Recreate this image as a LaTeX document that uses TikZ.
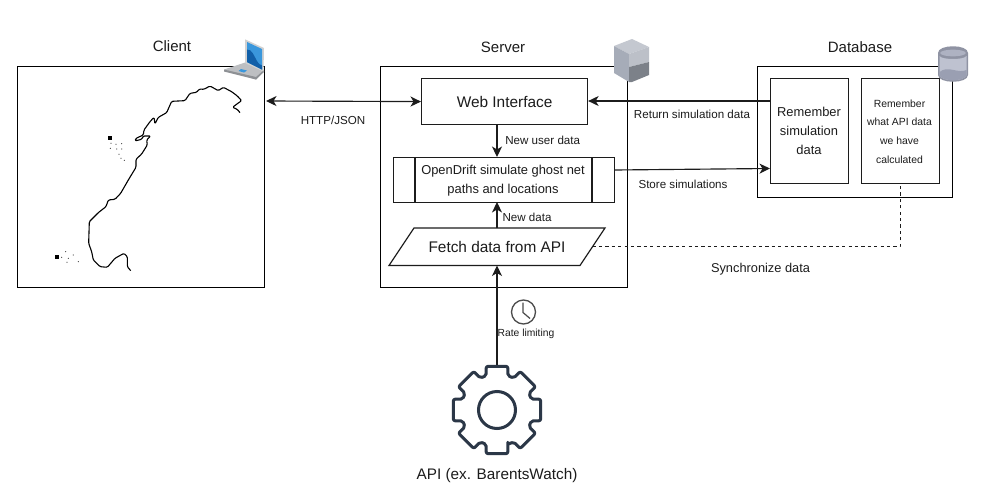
\documentclass[tikz,border=0pt]{standalone}
\usepackage{fontspec}
\setmainfont{Liberation Sans}
\usetikzlibrary{arrows.meta,calc}
\newcommand{\fsz}[1]{\fontsize{#1pt}{#1pt}\selectfont}
\definecolor{ink}{HTML}{1C1C1C}
\definecolor{gearc}{HTML}{2B3747}
\definecolor{lapscr}{HTML}{3A97DC}
\definecolor{lapdark}{HTML}{115FA8}
\definecolor{lapbase}{HTML}{BDBFC2}
\definecolor{lapedge}{HTML}{8E9195}
\definecolor{srvtop}{HTML}{C4C8D0}
\definecolor{srvleft}{HTML}{A6ACB8}
\definecolor{srvrt}{HTML}{BCC0C8}
\definecolor{srvrb}{HTML}{7C8189}
\definecolor{dbbody}{HTML}{BEC2D0}
\definecolor{dbtop}{HTML}{AEB2C2}
\definecolor{dbedge}{HTML}{8F93A3}
\definecolor{dbbot}{HTML}{9A9FB2}
\tikzset{
  container/.style={draw=black,line width=1.15pt,fill=none,inner sep=0pt},
  procbox/.style={draw=ink,line width=1.15pt,fill=white,inner sep=0pt,align=center,text=ink},
  title/.style={text=ink,inner sep=0pt,font=\fsz{15}},
  lbl/.style={text=ink,inner sep=0pt,font=\fsz{11.6}},
  conn/.style={draw=ink,line width=1.15pt,-{Stealth[length=10.5pt,width=10pt,inset=3pt]}},
  connb/.style={draw=ink,line width=1.15pt,{Stealth[length=10.5pt,width=10pt,inset=3pt]}-{Stealth[length=10.5pt,width=10pt,inset=3pt]}},
  syncline/.style={draw=ink,line width=1pt,dash pattern=on 3.2pt off 3.2pt},
}
\begin{document}
\begin{tikzpicture}[x=1pt,y=-1pt]
\useasboundingbox (0,0) rectangle (983,501);
\fill[white] (0,0) rectangle (983,501);

% containers
\node[container,minimum width=247pt,minimum height=221pt,anchor=north west] (client) at (16.5,65.5) {};
\node[container,minimum width=247pt,minimum height=221pt,anchor=north west] (server) at (380,65.5) {};
\node[container,minimum width=195pt,minimum height=131pt,anchor=north west] (database) at (757,65.5) {};

\node[title] (clientt) at (172,46.5) {Client};
\node[title] (servert) at (503,47) {Server};
\node[title] (databaset) at (860,47) {Database};

% inner boxes
\node[procbox,minimum width=166pt,minimum height=46pt,font=\fsz{15.4},anchor=north west] (web) at (421,78) {Web Interface};
\node[procbox,minimum width=221pt,minimum height=45pt,anchor=north west] (sim) at (393,157) {};
\draw[ink,line width=1.15pt] (415,157) -- (415,202) (592,157) -- (592,202);
\node[inner sep=0pt,font=\fsz{12.9},text=ink] (simtxt1) at (503,171) {OpenDrift simulate ghost net};
\node[inner sep=0pt,font=\fsz{12.9},text=ink] (simtxt2) at (503,190.5) {paths and locations};

\draw[ink,line width=1.15pt,fill=white] (414,228) -- (605,228) -- (580,265.5) -- (389,265.5) -- cycle;
\node[inner sep=0pt,font=\fsz{15.4},text=ink] (fetch) at (497,247) {Fetch data from API};
\coordinate (fetchE) at (592.5,246.5);
\coordinate (fetchT) at (497,228);
\coordinate (fetchB) at (497,265.5);

\node[procbox,minimum width=78pt,minimum height=105pt,anchor=north west] (rsim) at (770,78) {};
\node[inner sep=0pt,font=\fsz{12.9},text=ink] (rsim1) at (809,112) {Remember};
\node[inner sep=0pt,font=\fsz{12.9},text=ink] (rsim2) at (809,131) {simulation};
\node[inner sep=0pt,font=\fsz{12.9},text=ink] (rsim3) at (809,150) {data};
\node[procbox,minimum width=78pt,minimum height=105pt,anchor=north west] (rapi) at (861,78) {};
\node[inner sep=0pt,font=\fsz{10.4},text=ink] (rapi1) at (899.5,104) {Remember};
\node[inner sep=0pt,font=\fsz{10.4},text=ink] (rapi2) at (899.5,122) {what API data};
\node[inner sep=0pt,font=\fsz{10.4},text=ink] (rapi3) at (899.5,141) {we have};
\node[inner sep=0pt,font=\fsz{10.4},text=ink] (rapi4) at (899.5,159.5) {calculated};

% map
\begin{scope}[shift={(0,30)},x=.3333pt,y=-.3333pt]
\draw[black,line width=1.1pt,line join=round,rounded corners=1.2pt] (720,248) -- (712,238) -- (698,232) -- (708,224) -- (725,212) -- (712,198) -- (695,185) -- (670,172) -- (655,182) -- (630,168) -- (612,178) -- (598,177) -- (590,187) -- (570,190) -- (555,212) -- (515,214) -- (500,248) -- (475,262) -- (465,282) -- (462,262) -- (450,275) -- (432,300) -- (430,315) -- (408,325) -- (405,333) -- (425,328) -- (430,318) -- (452,318) -- (440,330) -- (442,345) -- (425,372) -- (408,388) -- (408,412) -- (385,450) -- (362,490) -- (345,508) -- (325,510) -- (318,530) -- (295,548) -- (268,575) -- (266,640) -- (275,665) -- (280,690) -- (300,710) -- (322,712) -- (345,685) -- (372,670) -- (382,680) -- (382,710) -- (392,722);
\end{scope}
\begin{scope}[shift={(45,125)},x=.3333pt,y=-.3333pt]
\fill[black] (189,34) rectangle (201,46);
\fill[black] (30,389) rectangle (43,401);
\foreach \p in {(198,55),(213,58),(230,56),(196,70),(215,72),(230,72),(222,88),(228,100),(238,106),(85,390),(50,397),(70,400),(66,412),(100,410),(62,380)}
  \fill[black!70] \p circle (1.9);
\end{scope}

% free connector ends
\coordinate (httpL) at (266,101);
\coordinate (retR) at (770,101);
\coordinate (storeL) at (614,170);
\coordinate (storeR) at (770,168.5);
\coordinate (syncC) at (900,246.5);
\coordinate (gearT) at (497,365);
\coordinate (webS) at (497,124);
\coordinate (simN) at (497,157);
\coordinate (simS) at (497,202);

% connectors
\draw[connb] (httpL) -- (web.west);
\draw[conn] (retR) -- (retR -| web.east);
\draw[conn] (webS) -- (simN);
\draw[conn] (fetchT) -- (simS);
\draw[conn] (storeL) -- (storeR);
\draw[conn] (gearT) -- (fetchB);
\draw[syncline] (fetchE) -- (syncC) -- (rapi.south -| syncC);

% labels
\node[lbl] (httpl) at (333,120) {HTTP/JSON};
\node[lbl] (retl) at (692,114) {Return simulation data};
\node[lbl] (storel) at (683,184) {Store simulations};
\node[lbl,font=\fsz{12.8}] (syncl) at (760.5,269) {Synchronize data};
\node[lbl] (nudl) at (542.7,140) {New user data};
\node[lbl] (ndl) at (527,217) {New data};
\node[lbl,font=\fsz{10.3}] (ratel) at (526,334) {Rate limiting};
\node[title,font=\fsz{15.3}] (apil) at (497,476) {API (ex. BarentsWatch)};

% clock
\draw[black!70,line width=1.3pt] (523.5,312) circle (12);
\draw[black!70,line width=1.2pt] (523,302.5) -- (523,312.5) -- (530,318.5);

% gear
\begin{scope}[shift={(497,410)}]
\draw[gearc,line width=3pt,line join=round,rounded corners=2pt]
  (72.6:36)
  \foreach \a in {90,135,180,225,270,315,0,45} {
    -- (\a-14:45) -- (\a+14:45) -- (\a+17.4:36) -- (\a+45-17.4:36)
  } -- cycle;
\draw[gearc,line width=3pt] (0,0) circle (18.5);
\end{scope}

% laptop icon
\fill[lapbase] (224,69.5) -- (245,62.5) -- (264,71.5) -- (256,79.5) -- cycle;
\fill[lapedge] (224,69.5) -- (256,77) -- (264,70) -- (264,71.8) -- (256,79.5) -- (224,71.5) -- cycle;
\fill[black!18] (245,39.3) -- (264,48) -- (263.5,71.5) -- (245,63) -- cycle;
\fill[lapscr] (247,42) -- (262,49) -- (262,69.5) -- (247,62) -- cycle;
\fill[lapdark] (247,49.5) .. controls (252,49) and (254,56) .. (257,61) .. controls (259,64) and (260,65) .. (262,65.5) -- (262,69.5) -- (247,62) -- cycle;
\fill[lapscr] (241,69) -- (247,70.5) -- (244,72.5) -- (238.5,71) -- cycle;

% server icon
\fill[srvtop] (614,46) -- (632,39) -- (649,47) -- (629,54) -- cycle;
\fill[srvleft] (614,46) -- (629,54) -- (629,82) -- (614,73) -- cycle;
\fill[srvrt] (629,54) -- (649,47) -- (649,62) -- (629,67) -- cycle;
\fill[srvrb] (629,67) -- (649,62) -- (649,75) -- (632,82) -- (629,82) -- cycle;

% database icon
\fill[dbedge] (938,53) .. controls (938,44) and (968,44) .. (968,53) -- (968,75) .. controls (968,84) and (938,84) .. (938,75) -- cycle;
\fill[dbbody] (939.5,56) .. controls (942,60) and (964,60) .. (966.5,56) -- (966.5,75) .. controls (964,82) and (942,82) .. (939.5,75) -- cycle;
\fill[dbtop] (940,53) .. controls (942,48.5) and (964,48.5) .. (966,53) .. controls (964,57.5) and (942,57.5) .. (940,53) -- cycle;
\fill[dbbot] (939.5,72) .. controls (948,65) and (958,74) .. (966.5,70) -- (966.5,75) .. controls (964,82) and (942,82) .. (939.5,75) -- cycle;
\end{tikzpicture}
\end{document}
